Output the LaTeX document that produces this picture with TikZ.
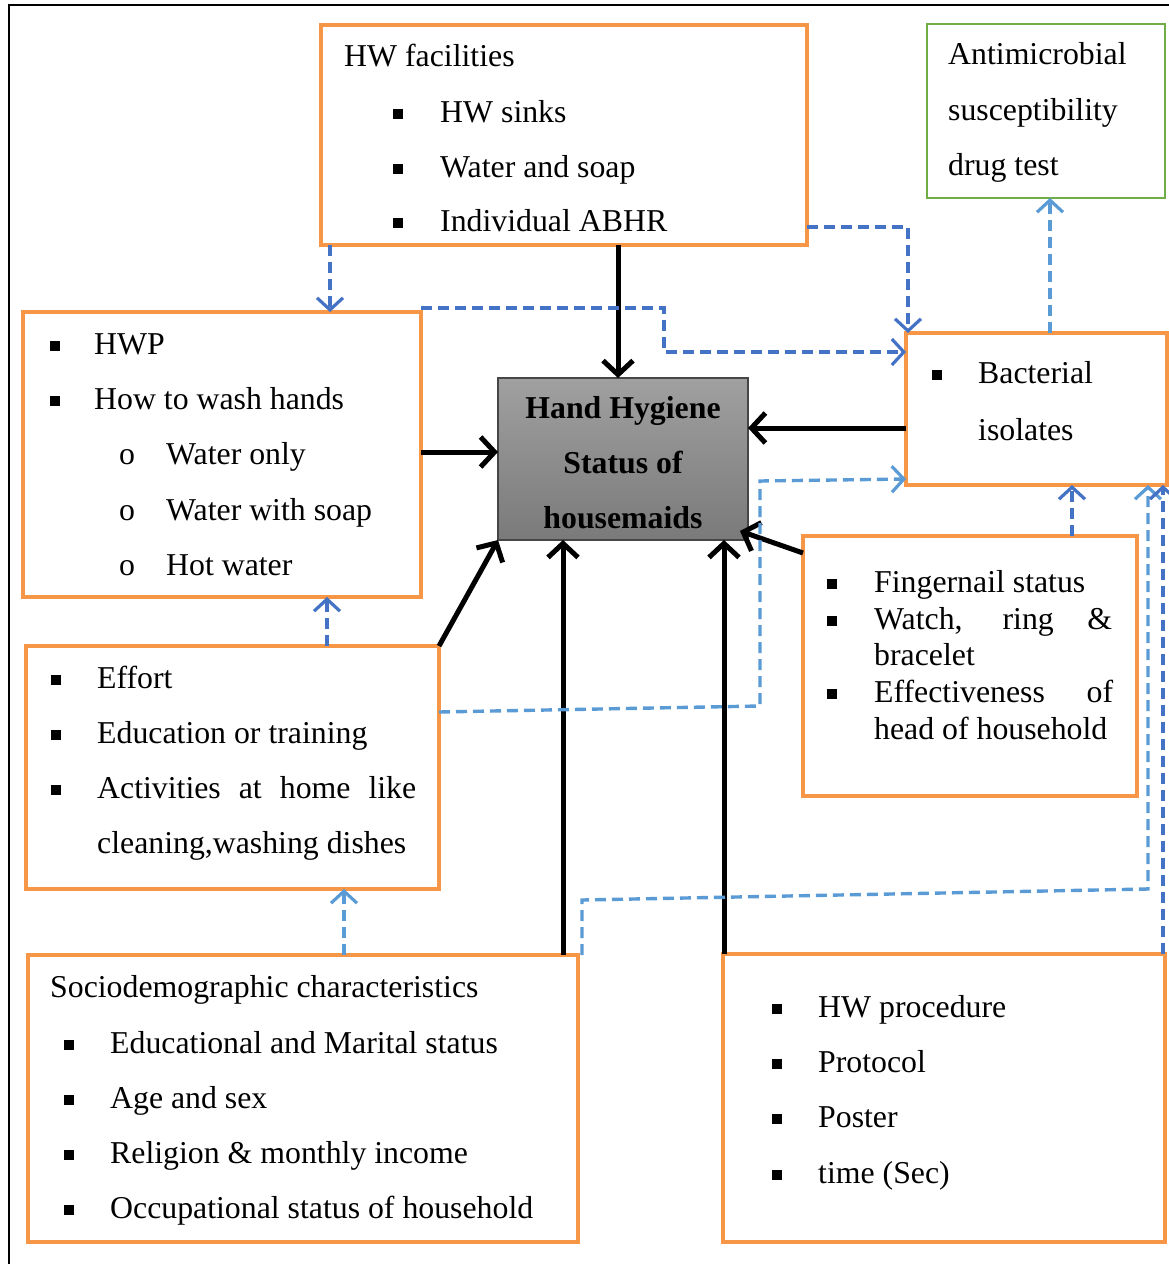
\documentclass[tikz,border=0pt]{standalone}
\usepackage{fontspec}
\setmainfont{Liberation Serif}
\usetikzlibrary{arrows.meta}
\definecolor{org}{HTML}{F79646}
\definecolor{grn}{HTML}{70AD47}
\definecolor{bdark}{HTML}{4472C4}
\definecolor{blight}{HTML}{5B9BD5}
\newcommand\bul{\rule[0.09em]{0.31em}{0.31em}}
% bullet line: name, bullet x, text x, baseline y, text
\newcommand\bline[5]{\node[txt] (#1) at (#2,#4) {\makebox[\dimexpr #3pt-#2pt\relax][l]{\bul}#5};}
\newcommand\tline[4]{\node[txt] (#1) at (#2,#3) {#4};}
\begin{document}
\begin{tikzpicture}[x=1pt,y=-1pt,
  box/.style={draw=org,line width=4.5pt,anchor=north west,inner sep=0pt,outer sep=0pt},
  gbox/.style={draw=grn,line width=2.5pt,anchor=north west,inner sep=0pt,outer sep=0pt},
  txt/.style={font=\fontsize{31.8pt}{38pt}\selectfont,anchor=base west,inner sep=0pt},
  txtb/.style={font=\fontsize{31.8pt}{38pt}\selectfont\bfseries,anchor=base,inner sep=0pt},
  blk/.style={line width=5pt,-{Straight Barb[length=14pt,width=30pt]}},
  dsh/.style={line width=3.4pt,dash pattern=on 11pt off 6pt,-{Straight Barb[length=12pt,width=26pt,line width=3.2pt]}}
]
\useasboundingbox (0,0) rectangle (1169,1264);
\clip (0,0) rectangle (1169,1264);
\draw[line width=2pt] (9,5) rectangle (1200,1300);

% boxes
\node[box,minimum width=486pt,minimum height=220pt] (hwf) at (321,25) {};
\node[gbox,minimum width=238pt,minimum height=174pt] (anti) at (927,24) {};
\node[box,minimum width=398pt,minimum height=285pt] (hwp) at (23,312) {};
\node[anchor=north west,inner sep=0pt,outer sep=0pt,minimum width=250pt,minimum height=162pt,
      draw={rgb,255:red,70;green,70;blue,70},line width=1.2pt,
      top color={rgb,255:red,160;green,160;blue,160},bottom color={rgb,255:red,122;green,122;blue,122}] (hh) at (498,378) {};
\node[box,minimum width=261pt,minimum height=152pt] (bac) at (906,333) {};
\node[box,minimum width=334pt,minimum height=260pt] (fin) at (803,536) {};
\node[box,minimum width=413pt,minimum height=243pt] (eff) at (26,646) {};
\node[box,minimum width=550pt,minimum height=287pt] (soc) at (28,955) {};
\node[box,minimum width=442pt,minimum height=288pt] (hwpr) at (723,954) {};

% HW facilities
\tline{a0}{344}{66}{HW facilities}
\bline{a1}{393}{440}{122}{HW sinks}
\bline{a2}{393}{440}{177}{Water and soap}
\bline{a3}{393}{440}{231}{Individual ABHR}

% Antimicrobial
\tline{b1}{948}{64}{Antimicrobial}
\tline{b2}{948}{120}{susceptibility}
\tline{b3}{948}{175}{drug test}

% HWP
\bline{c1}{50}{94}{354}{HWP}
\bline{c2}{50}{94}{409}{How to wash hands}
\node[txt] (c3) at (119,464) {\makebox[47pt][l]{o}Water only};
\node[txt] (c4) at (119,520) {\makebox[47pt][l]{o}Water with soap};
\node[txt] (c5) at (119,575) {\makebox[47pt][l]{o}Hot water};

% central
\node[txtb] (h1) at (623,418) {Hand Hygiene};
\node[txtb] (h2) at (623,473) {Status of};
\node[txtb] (h3) at (623,528) {housemaids};

% Bacterial
\bline{d1}{932}{978}{383}{Bacterial}
\tline{d2}{978}{440}{isolates}

% Fingernail
\bline{e1}{827}{874}{592}{Fingernail status}
\bline{e2}{827}{874}{629}{\makebox[238pt][s]{Watch, ring \&}}
\tline{e3}{874}{665}{bracelet}
\bline{e4}{827}{874}{702}{\makebox[239pt][s]{Effectiveness of}}
\tline{e5}{874}{739}{head of household}

% Effort
\bline{f1}{51}{97}{688}{Effort}
\bline{f2}{51}{97}{743}{Education or training}
\bline{f3}{51}{97}{798}{\makebox[319pt][s]{Activities at home like}}
\tline{f4}{97}{853}{cleaning,washing dishes}

% Sociodemographic
\tline{g0}{50}{997}{Sociodemographic characteristics}
\bline{g1}{64}{110}{1053}{Educational and Marital status}
\bline{g2}{64}{110}{1108}{Age and sex}
\bline{g3}{64}{110}{1163}{Religion \& monthly income}
\bline{g4}{64}{110}{1218}{Occupational status of household}

% HW procedure
\bline{k1}{772}{818}{1017}{HW procedure}
\bline{k2}{772}{818}{1072}{Protocol}
\bline{k3}{772}{818}{1127}{Poster}
\bline{k4}{772}{818}{1183}{time (Sec)}

% black arrows
\draw[blk] (618,0 |- hwf.south) -- (618,0 |- hh.north);
\draw[blk] (hwp.east |- 0,452) -- (hh.west |- 0,452);
\draw[blk] (bac.west |- 0,428) -- (hh.east |- 0,428);
\draw[blk] (fin.west |- 0,553) -- ([xshift=-8pt,yshift=9pt]hh.south east);
\draw[blk] (eff.north east) -- (hh.south west);
\draw[blk] (563,0 |- soc.north) -- (563,0 |- hh.south);
\draw[blk] (724,0 |- hwpr.north) -- (724,0 |- hh.south);

% dashed connectors
\draw[dsh,bdark] (330,0 |- hwf.south) -- (330,0 |- hwp.north);
\draw[dsh,bdark] (hwf.east |- 0,227) -| (908,0 |- bac.north);
\draw[dsh,bdark] (hwp.east |- 0,308) -- (664,308) |- (bac.west |- 0,352);
\draw[dsh,blight] (1050,0 |- bac.north) -- (1050,0 |- anti.south);
\draw[dsh,bdark] (1072,0 |- fin.north) -- (1072,0 |- bac.south);
\draw[dsh,bdark] (327,0 |- eff.north) -- (327,0 |- hwp.south);
\draw[dsh,blight] (344,0 |- soc.north) -- (344,0 |- eff.south);
\draw[dsh,blight] (eff.east |- 0,712) -- (760,706) -- (760,481) -- (bac.west |- 0,479);
\draw[dsh,blight] (582,0 |- soc.north) -- (582,900) -- (1148,889) -- (1148,0 |- bac.south);
\draw[dsh,bdark] (1163,0 |- hwpr.north) -- (1163,0 |- bac.south);
\end{tikzpicture}
\end{document}
